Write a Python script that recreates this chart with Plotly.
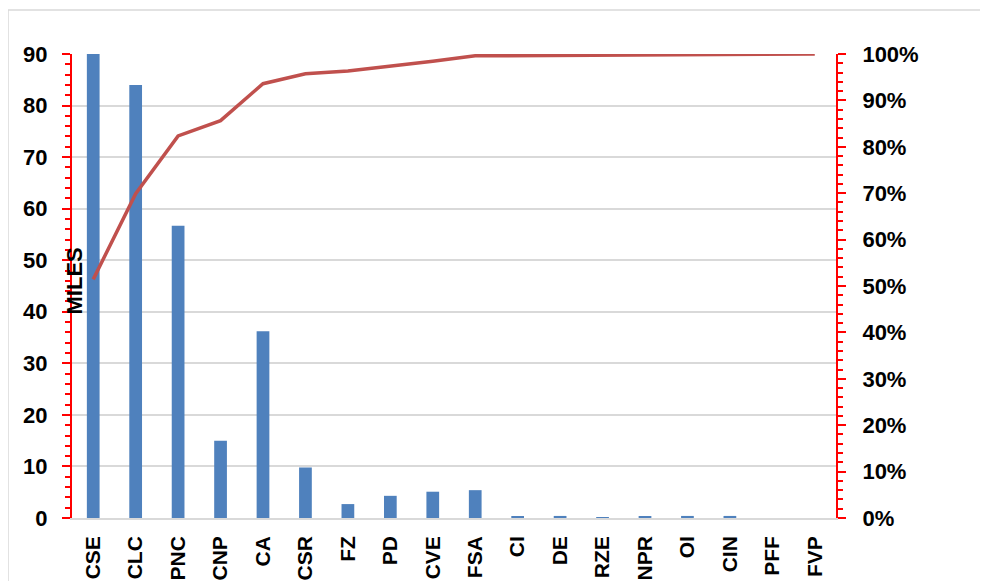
import plotly.graph_objects as go

categories = ["CSE", "CLC", "PNC", "CNP", "CA", "CSR", "FZ", "PD", "CVE", "FSA",
              "CI", "DE", "RZE", "NPR", "OI", "CIN", "PFF", "FVP"]
miles = [234, 84, 56.7, 15, 36.2, 9.8, 2.7, 4.3, 5.1, 5.4,
         0.2, 0.4, 0.1, 0.3, 0.4, 0.4, 0, 0]

total = sum(miles)
cum_pct = []
run = 0
for v in miles:
    run += v
    cum_pct.append(run / total)

left_ticks = list(range(0, 91, 10))
right_ticks = [i / 10 for i in range(0, 11)]

FONT = "Liberation Sans"
RED = "#FF0000"

# page has an 8px body offset; plot area in page coords: x 72..836, y 54..518
L, R, T, B = 64, 160, 46, 71
PW, PH = 988 - L - R, 581 - T - B

fig = go.Figure()
fig.add_trace(go.Bar(x=categories, y=miles, marker=dict(color="#4F81BD", line=dict(width=0)),
                     width=0.3, yaxis="y", name="MILES"))
fig.add_trace(go.Scatter(x=categories, y=cum_pct, mode="lines", yaxis="y2",
                         line=dict(color="#C0504D", width=3.5), name="%"))

fig.update_layout(
    width=988, height=581,
    margin=dict(l=L, r=R, t=T, b=B, autoexpand=False),
    paper_bgcolor="white", plot_bgcolor="white",
    showlegend=False,
    font=dict(family=FONT, size=22, color="black"),
    xaxis=dict(
        type="category", tickangle=-90, showgrid=False, automargin=False,
        showline=True, linecolor="#D9D9D9", linewidth=1.5,
        ticks="", tickfont=dict(family=FONT, size=21, color="black", weight="bold"),
        range=[-0.5, len(categories) - 0.5], ticklabelstandoff=8,
    ),
    yaxis=dict(
        range=[0, 90], tickvals=left_ticks, showgrid=True, gridcolor="#D9D9D9", gridwidth=1.5,
        showline=True, linecolor=RED, linewidth=2, automargin=False,
        ticks="outside", ticklen=8, tickwidth=2, tickcolor=RED,
        minor=dict(dtick=2, ticks="outside", ticklen=5, tickwidth=2, tickcolor=RED, showgrid=False),
        tickfont=dict(family=FONT, size=22, color="black", weight="bold"),
        ticklabelstandoff=10, zeroline=False,
    ),
    yaxis2=dict(
        range=[0, 1], tickvals=right_ticks, tickformat=".0%", overlaying="y", side="right",
        showgrid=False, showline=True, linecolor=RED, linewidth=2, automargin=False,
        ticks="outside", ticklen=8, tickwidth=2, tickcolor=RED,
        minor=dict(dtick=0.02, ticks="outside", ticklen=5, tickwidth=2, tickcolor=RED, showgrid=False),
        tickfont=dict(family=FONT, size=22, color="black", weight="bold"),
        ticklabelstandoff=12, zeroline=False,
    ),
)

fig.add_annotation(text="<b>MILES</b>", textangle=-90, xref="paper", yref="paper",
                   x=(51 - L) / PW, y=(581 - B - 273) / PH, showarrow=False,
                   font=dict(family=FONT, size=22, color="black"))

# chart-area border (top and left edges visible)
top_y = (581 - B - 2) / PH
left_x = (0 - L) / PW
fig.add_shape(type="line", xref="paper", yref="paper",
              x0=left_x, x1=(990 - L) / PW, y0=top_y, y1=top_y,
              line=dict(color="#D9D9D9", width=1.5))
fig.add_shape(type="line", xref="paper", yref="paper",
              x0=left_x, x1=left_x, y0=top_y, y1=-B / PH - 0.05,
              line=dict(color="#D9D9D9", width=1.5))

fig.write_html("out.html")
